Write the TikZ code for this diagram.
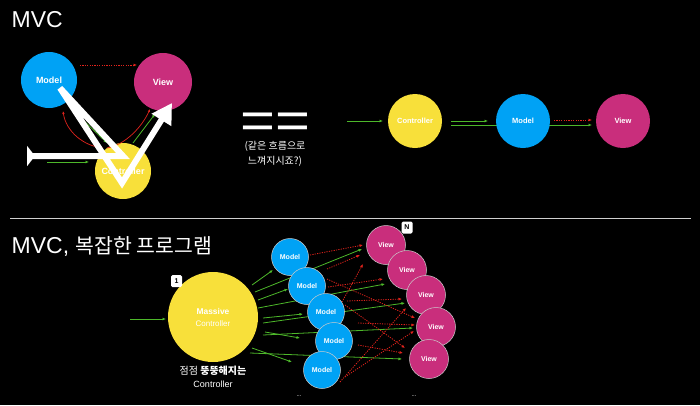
\documentclass[tikz,border=0pt]{standalone}
\usepackage{fontspec}
\setmainfont{Liberation Sans}
\newfontfamily\cjk{Noto Sans CJK KR}
\usetikzlibrary{arrows.meta,calc}
\pgfdeclarelayer{back}
\pgfdeclarelayer{bg}
\pgfsetlayers{back,bg,main}
\definecolor{mblue}{HTML}{00A2F5}
\definecolor{vmag}{HTML}{C92E7C}
\definecolor{cyel}{HTML}{F8E03A}
\definecolor{agreen}{HTML}{4DB82A}
\definecolor{ared}{HTML}{E0231C}
\definecolor{sepgray}{HTML}{D0D0D0}
\begin{document}
\begin{tikzpicture}[x=1pt,y=-1pt,
  circ/.style={circle, inner sep=0pt, text=white},
  bigtxt/.style={font=\bfseries\fontsize{9}{10}\selectfont},
  midtxt/.style={font=\bfseries\fontsize{7.5}{9}\selectfont},
  smalltxt/.style={font=\bfseries\fontsize{7}{8}\selectfont},
  outl/.style={draw=white!80!black, line width=0.5pt},
  garrow/.style={draw=agreen, line width=0.8pt, -{Latex[length=3.5pt,width=3pt]}},
  rarrow/.style={draw=ared, line width=0.8pt, dash pattern=on 1.2pt off 1.2pt, -{Latex[length=3.5pt,width=3pt]}},
  rcurve/.style={draw=ared, line width=0.7pt, -{Latex[length=3pt,width=2.5pt]}},
  badge/.style={fill=white, rounded corners=1.5pt, minimum width=11pt, minimum height=12pt, inner sep=0pt, text=black, font=\bfseries\fontsize{7}{8}\selectfont},
  wtext/.style={text=white, inner sep=0pt},
  whitepath/.style={draw=white, line width=6pt, line join=miter, {Triangle[reversed,length=8pt,width=20pt]}-{Triangle[length=20pt,width=22pt]}}
]
\begin{pgfonlayer}{back}
\fill[black] (0,0) rectangle (700,405);
\end{pgfonlayer}
\useasboundingbox (0,0) rectangle (700,405);

% ---------- titles ----------
\node[wtext, anchor=base west, font=\fontsize{23}{26}\selectfont] (t1) at (11.5,27) {MVC};
\node[wtext, anchor=base west, font=\fontsize{23}{26}\selectfont] (t2) at (11.5,253) {MVC, {\cjk\fontsize{20.5}{24}\selectfont 복잡한 프로그램}};
\draw[sepgray, line width=0.8pt] (10,218) -- (691,218);

% ---------- top left ----------
\node[circ, bigtxt, fill=mblue, minimum size=56pt] (m1) at (49,80) {Model};
\node[circ, bigtxt, fill=vmag, minimum size=58pt] (v1) at (163,82) {View};
\node[circ, bigtxt, fill=cyel, minimum size=56pt] (c1) at (123,171) {Controller};
\coordinate (gin1) at (47,162);
\coordinate (p0) at (27,156);

\draw[rarrow] ($(m1)+(31,-15)$) -- ($(v1)+(-26,-17)$);
\draw[rcurve] ($(c1)+(-20,-23)$) .. controls +(-20,-2) and +(3,20) .. ($(m1)+(14,31)$);
\draw[rcurve] ($(c1)+(-16,-23)$) .. controls +(18,-3) and +(-8,18) .. ($(v1)+(-13,27)$);
\draw[garrow] ($(m1)+(32,38)$) -- ($(c1)+(-16,-28)$);
\draw[garrow] ($(c1)+(10,-28)$) -- ($(v1)+(-8,32)$);
\draw[garrow] (gin1) -- ($(c1)+(-34,-9)$);

\draw[whitepath] (p0) -- ($(c1)+(0,-15)$) -- ($(m1)+(11,8)$) -- ($(c1)+(-1,12)$) -- ($(v1)+(9,21)$);

% ---------- equals ----------
\node[wtext, anchor=base, text depth=0pt, text height=28pt, font=\fontsize{52}{52}\selectfont] (eq) at (275,138.5) {\scalebox{1.15}[1]{==}};
\node[wtext, align=center, font=\cjk\fontsize{10}{15.5}\selectfont] (q) at (275,154) {(같은 흐름으로\\느껴지시죠?)};

% ---------- top right ----------
\node[circ, midtxt, fill=cyel, minimum size=54pt] (c2) at (415,121) {Controller};
\node[circ, midtxt, fill=mblue, minimum size=54pt] (m2) at (523,121) {Model};
\node[circ, midtxt, fill=vmag, minimum size=54pt] (v2) at (623,121) {View};
\coordinate (gin2) at (347,121);
\begin{pgfonlayer}{bg}
\draw[garrow] ($(c2)+(36,4)$) -- ($(v2)+(-31,4)$);
\end{pgfonlayer}
\draw[garrow] (gin2) -- ($(c2)+(-32,0)$);
\draw[garrow] ($(c2)+(36,0)$) -- ($(m2)+(-35,0)$);
\draw[rarrow] ($(m2)+(31,-1)$) -- ($(v2)+(-31,-1)$);

% ---------- bottom ----------
\node[circ, fill=cyel, minimum size=90pt, align=center] (c3) at (213,317)
  {{\bfseries\fontsize{8.4}{10}\selectfont Massive}\\{\fontsize{8}{10}\selectfont Controller}};
\node[badge] (b1) at (176.5,281) {1};
\coordinate (gin3) at (130,319);
\draw[garrow] (gin3) -- ($(c3)+(-47,2)$);
\node[wtext, align=center, font=\fontsize{9}{13}\selectfont] (ct) at (213,377)
  {{\cjk\fontsize{10}{13}\selectfont 점점 \bfseries 뚱뚱해지는}\\Controller};

\node[circ, smalltxt, outl, fill=mblue, minimum size=37pt] (ma) at (290,257) {Model};
\node[circ, smalltxt, outl, fill=mblue, minimum size=37pt] (mb) at (307,286) {Model};
\node[circ, smalltxt, outl, fill=mblue, minimum size=37pt] (mc) at (326,312) {Model};
\node[circ, smalltxt, outl, fill=mblue, minimum size=37pt] (md) at (334,341) {Model};
\node[circ, smalltxt, outl, fill=mblue, minimum size=37pt] (me) at (322,370) {Model};

\node[circ, smalltxt, outl, fill=vmag, minimum size=39pt] (va) at (386,245) {View};
\node[circ, smalltxt, outl, fill=vmag, minimum size=39pt] (vb) at (407,270) {View};
\node[circ, smalltxt, outl, fill=vmag, minimum size=39pt] (vc) at (426,295) {View};
\node[circ, smalltxt, outl, fill=vmag, minimum size=39pt] (vd) at (436,327) {View};
\node[circ, smalltxt, outl, fill=vmag, minimum size=39pt] (ve) at (429,359) {View};
\node[badge] (bn) at (407,227.5) {N};

\node[wtext, font=\fontsize{6}{7}\selectfont] (dm) at (299,396) {...};
\node[wtext, font=\fontsize{6}{7}\selectfont] (dv) at (414,396) {...};

\begin{pgfonlayer}{bg}
% green: controller -> models / views
\draw[garrow] ($(c3)+(39,-32)$) -- ($(ma)+(-17,13)$);
\draw[garrow] ($(c3)+(42,-25)$) -- ($(va)+(-24,4)$);
\draw[garrow] ($(c3)+(45,-17)$) -- ($(mb)+(-19,3)$);
\draw[garrow] ($(c3)+(45,-9)$) -- ($(vb)+(-22,14)$);
\draw[garrow] ($(c3)+(50,6)$) -- ($(vc)+(-21,8)$);
\draw[garrow] ($(c3)+(50,1)$) -- ($(mc)+(-23,2)$);
\draw[garrow] ($(c3)+(52,15)$) -- ($(md)+(-34,-3)$);
\draw[garrow] ($(c3)+(50,18)$) -- ($(vd)+(-23,1)$);
\draw[garrow] ($(c3)+(39,31)$) -- ($(me)+(-30,-8)$);
\draw[garrow] ($(c3)+(37,36)$) -- ($(ve)+(-27,0)$);
% red: models -> views
\draw[rarrow] ($(ma)+(20,-2)$) -- ($(va)+(-23,0)$);
\draw[rarrow] ($(mb)+(20,-17)$) -- ($(va)+(-26,10)$);
\draw[rarrow] ($(mc)+(16,-10)$) -- ($(va)+(-23,19)$);
\draw[rarrow] ($(mb)+(21,1)$) -- ($(vb)+(-24,9)$);
\draw[rarrow] ($(mb)+(20,-7)$) -- ($(vd)+(-21,-9)$);
\draw[rarrow] ($(mc)+(19,-7)$) -- ($(ve)+(-24,-11)$);
\draw[rarrow] ($(mc)+(21,-11)$) -- ($(vc)+(-24,4)$);
\draw[rarrow] ($(md)+(24,-18)$) -- ($(vd)+(-21,-2)$);
\draw[rarrow] ($(md)+(24,4)$) -- ($(ve)+(-26,-6)$);
\draw[rarrow] ($(me)+(18,12)$) -- ($(vc)+(-20,13)$);
\draw[rarrow] ($(me)+(23,7)$) -- ($(vd)+(-22,4)$);
\end{pgfonlayer}
\end{tikzpicture}
\end{document}
